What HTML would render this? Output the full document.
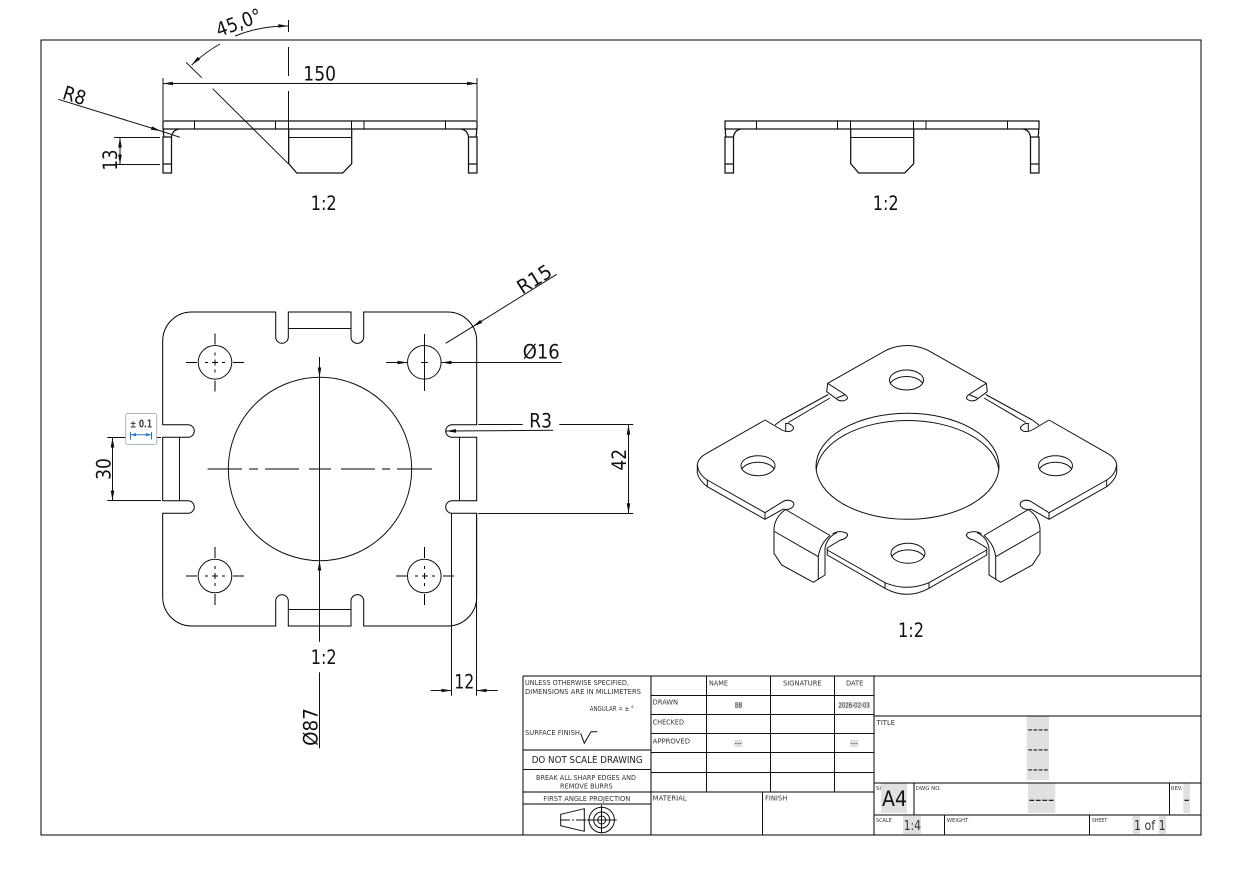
<!DOCTYPE html>
<html><head><meta charset="utf-8"><style>
html,body{margin:0;padding:0;background:#fff;width:1241px;height:876px;overflow:hidden}
svg{display:block}
text{font-family:"DejaVu Sans","Liberation Sans",sans-serif;fill:#111}
.d{font-size:19.5px}
.s{font-size:6.6px;fill:#333}
.l{fill:none;stroke:#111;stroke-width:1}
.g{fill:none;stroke:#000;stroke-width:1}
.t{fill:none;stroke:#111;stroke-width:1.25}
.c{fill:none;stroke:#000;stroke-width:1;stroke-dasharray:11 8 3 4 6 4 3 8 11}
.h{fill:#e0e0e0;stroke:none}
</style></head><body>
<svg width="1241" height="876" viewBox="0 0 1241 876" xmlns="http://www.w3.org/2000/svg">
<defs>
<marker id="a" markerUnits="userSpaceOnUse" markerWidth="10" markerHeight="5" refX="10" refY="2.5" orient="auto" overflow="visible"><path d="M0 0.7L10 2.5L0 4.3z" fill="#111"/></marker>
<marker id="c" markerUnits="userSpaceOnUse" markerWidth="6" markerHeight="5" refX="5" refY="2.5" orient="auto-start-reverse" overflow="visible"><path d="M0 0.8L5 2.5L0 4.2z" fill="#1f78c8"/></marker>
<g id="hf">
<path class="t" d="M163 137V173H171.5V137ZM163 164H171.5M163.5 129Q163 133 164 137M179 129Q172.5 130 171.5 137"/>
</g>
<g id="tv">
<rect class="t" x="163" y="121" width="314" height="8"/>
<use href="#hf"/>
<use href="#hf" transform="matrix(-1 0 0 1 640 0)"/>
<path class="l" d="M194.5 121V129M275.5 121V129M288.5 121V129M351.5 121V129M364 121V129M445.5 121V129"/>
<path class="t" d="M288.7 129V163.7L296.7 173H342.7L351.7 163.7V129"/>
<path class="l" d="M288.7 137.5H351.7"/>
</g>
<g id="isoh">
<path class="l" d="M907 345.5Q897 345.5 886.7 350L827.7 383.3L826.7 391.7L838 400Q843 402 846.5 399.5Q849 397.5 845 394.5L827.7 383.3M836.7 398Q842 396 845 394.5"/>
<path class="l" d="M828.3 394.5L781.7 420M830 398L788.3 422.5"/>
<path class="l" d="M765 420L706.7 453.3Q698 458 697.3 465V473.3M765 420L781 429.5Q786 432.5 791 431Q795.5 428.5 792 425.5Q789 423 785 423.5M775 425L781.7 420M785.7 423.5V431"/>
<path class="l" d="M697.5 465Q698 474 707.3 480L765 512.7L782.7 501.7M697.3 473.3Q699.5 481 707.3 486.7L765 519.3L782.7 509.3M707.3 480V486.7M765 512.7V519.3"/>
<path class="l" d="M782.7 501.7Q786 499.5 790 500.5Q795 502 793.5 506Q791 509.5 786 509.5L782.7 509.3"/>
<path class="l" d="M785.5 509.5L830 535.5M785.5 509.5Q774 518 774 530V553.3L781.7 565L813.3 582.3L825 575V548.3Q827 537 837 532.7"/>
<path class="l" d="M774.5 531.5L818.3 556.7V579M818.3 556.7Q820 544 830 535.5"/>
<path class="l" d="M832.5 534Q836 531.5 841 531.7Q848 532.3 847.5 535.5Q846 539 840.5 540L828 547.5Q826.5 549 827.3 550"/>
<path class="l" d="M827.3 550L885 582.7Q896 587.3 907 587.3M827.3 550V555L885 588.3Q896 594.3 907 594.3M885 582.7V588.3"/>
</g>
</defs>

<rect class="g" x="41" y="40" width="1160" height="795"/>

<!-- top views -->
<use href="#tv"/>
<use href="#tv" x="562"/>
<!-- 150 -->
<path class="l" d="M163 78V120M477 78V120"/>
<line class="l" x1="320" y1="83.5" x2="163" y2="83.5" marker-end="url(#a)"/>
<line class="l" x1="320" y1="83.5" x2="477" y2="83.5" marker-end="url(#a)"/>
<text class="d" x="303.3" y="80.7" textLength="32.7" lengthAdjust="spacingAndGlyphs">150</text>
<!-- 45 -->
<path class="l" d="M288.5 20V32M288.5 47V76M288.5 91V164"/>
<path class="l" d="M235 36A138 138 0 0 1 288.3 26" marker-end="url(#a)"/>
<path class="l" d="M220 44A138 138 0 0 0 191.7 65" marker-end="url(#a)"/>
<path class="l" d="M186 62.3L201.7 77.7M212.7 88.7L288.3 163.7"/>
<text class="d" text-anchor="middle" transform="translate(241,29) rotate(-20)" textLength="47" lengthAdjust="spacingAndGlyphs">45,0°</text>
<!-- R8 -->
<line class="l" x1="58.3" y1="99.3" x2="161" y2="131" marker-end="url(#a)"/>
<line class="l" x1="161" y1="131" x2="180" y2="137.3"/>
<text class="d" text-anchor="middle" transform="translate(72.5,102) rotate(17.3)" textLength="23" lengthAdjust="spacingAndGlyphs">R8</text>
<!-- 13 -->
<path class="l" d="M114 137.5H160M114 164.5H160"/>
<line class="l" x1="120" y1="150" x2="120" y2="137.5" marker-end="url(#a)"/>
<line class="l" x1="120" y1="150" x2="120" y2="164.5" marker-end="url(#a)"/>
<text class="d" text-anchor="middle" transform="translate(117,160) rotate(-90)" textLength="21" lengthAdjust="spacingAndGlyphs">13</text>
<text class="d" x="310.7" y="210" textLength="26" lengthAdjust="spacingAndGlyphs">1:2</text>
<text class="d" x="872.7" y="210" textLength="26" lengthAdjust="spacingAndGlyphs">1:2</text>

<!-- front view outline -->
<path class="g" d="M191.7 312H275.7V337A6.3 6.3 0 0 0 288.3 337V312H351V337A6.3 6.3 0 0 0 363.7 337V312H447.7A29 29 0 0 1 476.7 341V424.7H452A6.3 6.3 0 0 0 452 437.3H476.7V500.7H452A6.3 6.3 0 0 0 452 513.3H476.7V597A29 29 0 0 1 447.7 626H363.7V601A6.3 6.3 0 0 0 351 601V626H288.3V601A6.3 6.3 0 0 0 275.7 601V626H191.7A29 29 0 0 1 162.7 597V513.3H188A6.3 6.3 0 0 0 188 500.7H162.7V437.3H188A6.3 6.3 0 0 0 188 424.7H162.7V341A29 29 0 0 1 191.7 312Z"/>
<path class="l" d="M288.3 328.5H351M288.3 609.5H351M179.5 437.3V500.7M459.5 437.3V500.7"/>
<circle class="l" cx="320" cy="469" r="91.7"/>
<circle class="l" cx="215" cy="362.3" r="16.8"/>
<circle class="l" cx="424.3" cy="362.3" r="16.8"/>
<circle class="l" cx="215" cy="576" r="16.8"/>
<circle class="l" cx="424.3" cy="576" r="16.8"/>
<!-- center lines -->
<line class="c" x1="186" y1="362.5" x2="244" y2="362.5"/>
<line class="c" x1="215" y1="333.5" x2="215" y2="391.5"/>
<line class="c" x1="186" y1="576" x2="244" y2="576"/>
<line class="c" x1="215" y1="547" x2="215" y2="605"/>
<line class="c" x1="396" y1="576" x2="454" y2="576"/>
<line class="c" x1="424.5" y1="547" x2="424.5" y2="605"/>
<path class="l" d="M424.5 334V391M421 362.5H428"/>
<path class="g" d="M207.5 469H242M249 469H258M265 469H299M309 469H331M341 469H375M382 469H390M397 469H432"/>
<!-- Ø87 -->
<line class="l" x1="319.5" y1="357" x2="319.5" y2="377.5" marker-end="url(#a)"/>
<line class="l" x1="319.5" y1="641.7" x2="319.5" y2="560.5" marker-end="url(#a)"/>
<line class="l" x1="319.5" y1="377.5" x2="319.5" y2="560.5"/>
<line class="l" x1="319.5" y1="672.3" x2="319.5" y2="748.3"/>
<text class="d" text-anchor="middle" transform="translate(317.3,727) rotate(-90)" textLength="37.7" lengthAdjust="spacingAndGlyphs">Ø87</text>
<text class="d" x="310.7" y="664" textLength="26" lengthAdjust="spacingAndGlyphs">1:2</text>
<!-- Ø16 -->
<line class="l" x1="386" y1="362.5" x2="407.5" y2="362.5" marker-end="url(#a)"/>
<line class="l" x1="561.7" y1="362.5" x2="441.5" y2="362.5" marker-end="url(#a)"/>
<text class="d" x="522.7" y="358.3" textLength="37" lengthAdjust="spacingAndGlyphs">Ø16</text>
<!-- R15 -->
<line class="l" x1="556.7" y1="274.3" x2="472.7" y2="326.7" marker-end="url(#a)"/>
<line class="l" x1="472.7" y1="326.7" x2="445.7" y2="343.3"/>
<text class="d" text-anchor="middle" transform="translate(538,285) rotate(-32)" textLength="37" lengthAdjust="spacingAndGlyphs">R15</text>
<!-- R3 -->
<line class="l" x1="553.3" y1="430.3" x2="446" y2="431" marker-end="url(#a)"/>
<text class="d" x="529.3" y="427.7" textLength="22.7" lengthAdjust="spacingAndGlyphs">R3</text>
<!-- 42 -->
<path class="l" d="M478.3 424.5H522.7M559.3 424.5H633.3M478.3 513.5H633.3"/>
<line class="l" x1="628.5" y1="460" x2="628.5" y2="424.7" marker-end="url(#a)"/>
<line class="l" x1="628.5" y1="460" x2="628.5" y2="513.3" marker-end="url(#a)"/>
<text class="d" text-anchor="middle" transform="translate(626,459.8) rotate(-90)" textLength="21.7" lengthAdjust="spacingAndGlyphs">42</text>
<!-- 30 -->
<path class="l" d="M107.3 437.5H161M107.3 500.5H161"/>
<line class="l" x1="112.5" y1="470" x2="112.5" y2="437.5" marker-end="url(#a)"/>
<line class="l" x1="112.5" y1="470" x2="112.5" y2="500.5" marker-end="url(#a)"/>
<text class="d" text-anchor="middle" transform="translate(110.7,469) rotate(-90)" textLength="21.7" lengthAdjust="spacingAndGlyphs">30</text>
<!-- badge -->
<rect x="125.7" y="413.5" width="31" height="31" rx="2" fill="#fff" stroke="#aab6c6" stroke-width="1"/>
<text x="130" y="427.5" font-weight="700" style="font-size:10.5px;fill:#444" textLength="22" lengthAdjust="spacingAndGlyphs">± 0.1</text>
<path d="M130.5 432V439.5M151.5 432V439.5" stroke="#1f78c8" stroke-width="1" fill="none"/>
<line x1="131" y1="434.7" x2="151" y2="434.7" stroke="#1f78c8" stroke-width="1" marker-start="url(#c)" marker-end="url(#c)"/>
<!-- 12 -->
<path class="l" d="M451.5 513V695.7M476.5 513V695.7"/>
<line class="l" x1="430.7" y1="690.5" x2="451.5" y2="690.5" marker-end="url(#a)"/>
<line class="l" x1="497.7" y1="690.5" x2="476.5" y2="690.5" marker-end="url(#a)"/>
<text class="d" x="454.3" y="688.3" textLength="20" lengthAdjust="spacingAndGlyphs">12</text>

<!-- iso -->
<use href="#isoh"/>
<use href="#isoh" transform="matrix(-1 0 0 1 1814 0)"/>
<ellipse class="l" cx="907.5" cy="466.3" rx="91.5" ry="53"/>
<path class="l" d="M816.2 470A91.5 53 0 0 1 998.8 470"/>
<ellipse class="l" cx="906.5" cy="380" rx="17" ry="10"/><path class="l" d="M890.6 383A17 10 0 0 1 922.4 383"/>
<ellipse class="l" cx="758" cy="465.7" rx="17" ry="10"/><path class="l" d="M742.1 468.7A17 10 0 0 1 773.9 468.7"/>
<ellipse class="l" cx="1055.5" cy="465.7" rx="17" ry="10"/><path class="l" d="M1039.6 468.7A17 10 0 0 1 1071.4 468.7"/>
<ellipse class="l" cx="908" cy="553.3" rx="17" ry="10"/><path class="l" d="M892.1 556.3A17 10 0 0 1 923.9 556.3"/>
<text class="d" x="898" y="637" textLength="26" lengthAdjust="spacingAndGlyphs">1:2</text>

<!-- title block highlights -->
<rect class="h" x="1026.7" y="716" width="22.3" height="64"/>
<rect class="h" x="881" y="783.5" width="26" height="29.5"/>
<rect class="h" x="1028" y="783.5" width="27.3" height="29.5"/>
<rect class="h" x="1183.3" y="783.5" width="6.7" height="29.5"/>
<rect class="h" x="903" y="816" width="18" height="18"/>
<rect class="h" x="1132.7" y="816" width="7.3" height="18"/>
<rect class="h" x="1158.7" y="816" width="7.3" height="18"/>
<rect class="h" x="735" y="702" width="7.3" height="6.5"/>
<rect class="h" x="838.3" y="702" width="31.7" height="6.5"/>
<rect class="h" x="734.3" y="740" width="8" height="7"/>
<rect class="h" x="850" y="740" width="8.3" height="7"/>

<!-- title block lines -->
<path class="g" d="M523 676H1201M523 676V835M651 676V835M874 676V835M523 750H651M523 804H651M523 792H874M874 716H1201M874 783H1201M874 815H1201M914 783V815"/>
<path class="l" d="M651 695.5H874M651 714.5H874M651 733.5H874M651 752.5H874M651 772.5H874M523 769.5H651M706.5 676V792M770.5 676V792M834.5 676V792M762.5 792V835M1169.5 783V815M944.5 815V835M1089.5 815V835"/>

<text class="s" x="525" y="685" textLength="104" lengthAdjust="spacingAndGlyphs">UNLESS OTHERWISE SPECIFIED,</text>
<text class="s" x="525" y="694" textLength="116" lengthAdjust="spacingAndGlyphs">DIMENSIONS ARE IN MILLIMETERS</text>
<text class="s" x="589.7" y="711" textLength="44" lengthAdjust="spacingAndGlyphs">ANGULAR = ± °</text>
<text class="s" x="525" y="735" textLength="55" lengthAdjust="spacingAndGlyphs">SURFACE FINISH</text>
<path class="l" d="M580.7 733.3L584.3 743.3L591 731.7H597.3"/>
<text x="531.7" y="763" style="font-size:9.5px;fill:#222" textLength="111" lengthAdjust="spacingAndGlyphs">DO NOT SCALE DRAWING</text>
<text class="s" x="536" y="780" textLength="100" lengthAdjust="spacingAndGlyphs">BREAK ALL SHARP EDGES AND</text>
<text class="s" x="560" y="788.5" textLength="52.7" lengthAdjust="spacingAndGlyphs">REMOVE BURRS</text>
<text class="s" x="543.3" y="801" textLength="87" lengthAdjust="spacingAndGlyphs">FIRST ANGLE PROJECTION</text>
<path class="l" d="M560.7 814.3L584.3 808.7V831.3L560.7 825.7Z"/>
<path class="l" stroke-dasharray="10 2 2 2" d="M560 820H588"/>
<circle class="l" cx="601.7" cy="820" r="12.7"/>
<circle class="l" cx="601.7" cy="820" r="8"/>
<circle class="l" cx="601.7" cy="820" r="4"/>
<path class="l" d="M586.7 820H616.7M601.5 805V833.3"/>

<text class="s" x="709" y="685.7" textLength="19" lengthAdjust="spacingAndGlyphs">NAME</text>
<text class="s" x="783" y="685.7" textLength="38.7" lengthAdjust="spacingAndGlyphs">SIGNATURE</text>
<text class="s" x="846" y="685.7" textLength="17.3" lengthAdjust="spacingAndGlyphs">DATE</text>
<text class="s" x="652.7" y="704.7" textLength="25.3" lengthAdjust="spacingAndGlyphs">DRAWN</text>
<text class="s" x="652.7" y="724.3" textLength="31.3" lengthAdjust="spacingAndGlyphs">CHECKED</text>
<text class="s" x="652.7" y="743.7" textLength="37.3" lengthAdjust="spacingAndGlyphs">APPROVED</text>
<text class="s" x="652.7" y="800.7" textLength="34" lengthAdjust="spacingAndGlyphs">MATERIAL</text>
<text class="s" x="765" y="800.7" textLength="22.3" lengthAdjust="spacingAndGlyphs">FINISH</text>
<text class="s" x="735" y="707.7" textLength="7.3" lengthAdjust="spacingAndGlyphs">BB</text>
<text class="s" x="838.5" y="707.7" textLength="31.3" lengthAdjust="spacingAndGlyphs">2026-02-03</text>
<text class="s" x="734.5" y="745.5" textLength="7.5" lengthAdjust="spacingAndGlyphs">---</text>
<text class="s" x="850.3" y="745.5" textLength="7.5" lengthAdjust="spacingAndGlyphs">---</text>
<text class="s" x="876.7" y="725" textLength="18.3" lengthAdjust="spacingAndGlyphs">TITLE</text>
<text class="s" x="876" y="790" style="font-size:5.5px" textLength="5" lengthAdjust="spacingAndGlyphs">SI</text>
<text class="s" x="915.7" y="790" style="font-size:5.5px" textLength="25.3" lengthAdjust="spacingAndGlyphs">DWG NO.</text>
<text class="s" x="1171" y="790" style="font-size:5.5px" textLength="11.3" lengthAdjust="spacingAndGlyphs">REV.</text>
<text class="s" x="876" y="822" style="font-size:5.5px" textLength="15.7" lengthAdjust="spacingAndGlyphs">SCALE</text>
<text class="s" x="946.7" y="822" style="font-size:5.5px" textLength="21.6" lengthAdjust="spacingAndGlyphs">WEIGHT</text>
<text class="s" x="1091.7" y="822" style="font-size:5.5px" textLength="15.6" lengthAdjust="spacingAndGlyphs">SHEET</text>
<text x="882" y="806" style="font-size:21px" textLength="25" lengthAdjust="spacingAndGlyphs">A4</text>
<text x="903.7" y="830" style="font-size:13.5px;fill:#333" textLength="17.3" lengthAdjust="spacingAndGlyphs">1:4</text>
<text x="1134" y="830" style="font-size:13.5px;fill:#333" textLength="31.7" lengthAdjust="spacingAndGlyphs">1 of 1</text>
<text x="1027.5" y="734" style="font-size:14px;fill:#222" textLength="21" lengthAdjust="spacingAndGlyphs">----</text>
<text x="1027.5" y="754" style="font-size:14px;fill:#222" textLength="21" lengthAdjust="spacingAndGlyphs">----</text>
<text x="1027.5" y="774" style="font-size:14px;fill:#222" textLength="21" lengthAdjust="spacingAndGlyphs">----</text>
<text x="1028.5" y="805" style="font-size:16px;fill:#222" textLength="26" lengthAdjust="spacingAndGlyphs">----</text>
<text x="1183.7" y="805" style="font-size:16px;fill:#222" textLength="6" lengthAdjust="spacingAndGlyphs">-</text>
</svg>
</body></html>
